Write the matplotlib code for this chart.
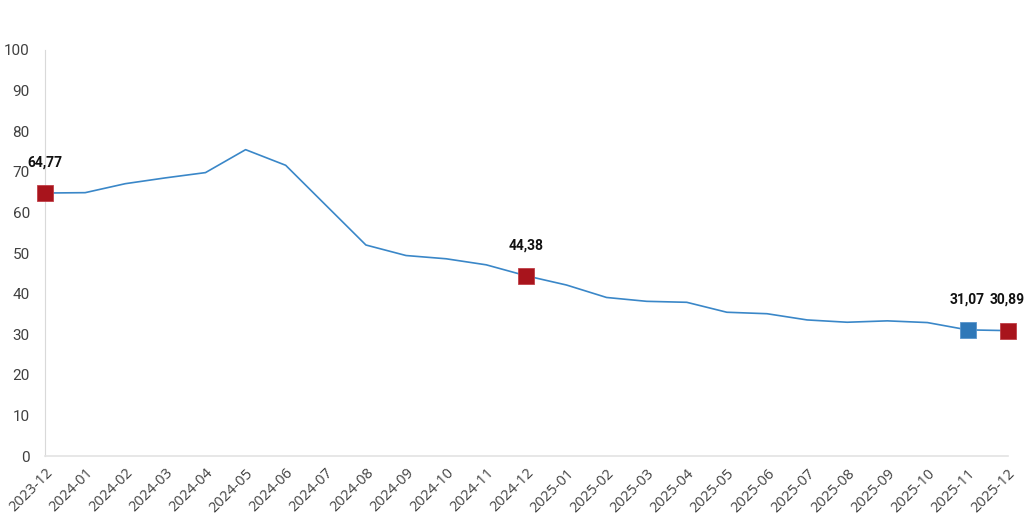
import matplotlib.pyplot as plt

months = ["2023-12", "2024-01", "2024-02", "2024-03", "2024-04", "2024-05",
          "2024-06", "2024-07", "2024-08", "2024-09", "2024-10", "2024-11",
          "2024-12", "2025-01", "2025-02", "2025-03", "2025-04", "2025-05",
          "2025-06", "2025-07", "2025-08", "2025-09", "2025-10", "2025-11",
          "2025-12"]
values = [64.77, 64.86, 67.07, 68.50, 69.80, 75.45, 71.60, 61.78, 51.97,
          49.38, 48.58, 47.09, 44.38, 42.12, 39.05, 38.10, 37.86, 35.41,
          35.05, 33.52, 32.95, 33.29, 32.87, 31.07, 30.89]

red_idx = [0, 12, 24]
blue_idx = [23]

plt.rcParams['font.family'] = ['Open Sans', 'DejaVu Sans']

fig = plt.figure(figsize=(10.24, 5.26), dpi=100)
ax = fig.add_axes([0.044, 0.133, 0.940, 0.772])

x = list(range(len(months)))
ax.plot(x, values, color='#3a87c8', linewidth=1.2, zorder=2)

for i in red_idx:
    ax.plot(i, values[i], marker='s', markersize=12, color='#a8141c',
            markeredgecolor='#c04048', markeredgewidth=0.6, clip_on=False, zorder=3)
for i in blue_idx:
    ax.plot(i, values[i], marker='s', markersize=12, color='#2f78b8',
            markeredgecolor='#5a95cc', markeredgewidth=0.6, clip_on=False, zorder=3)

for i in red_idx + blue_idx:
    label = f"{values[i]:.2f}".replace('.', ',')
    ax.annotate(label, (i, values[i]), xytext=(0, 17), textcoords='offset points',
                ha='center', va='bottom', fontsize=10, fontweight='bold',
                family=['Liberation Sans Narrow', 'Roboto', 'DejaVu Sans'],
                color='#111111')

ax.set_xlim(0, len(months) - 1)
ax.set_ylim(0, 100)
ax.set_yticks(range(0, 101, 10))
ax.set_xticks(x)
ax.set_xticklabels(months, rotation=45, ha='right', rotation_mode='anchor')

ax.tick_params(axis='both', length=0, colors='#404040', labelsize=10.5)
ax.tick_params(axis='y', pad=11)
ax.tick_params(axis='x', pad=7)
for lbl in ax.get_yticklabels():
    lbl.set_family(['Roboto', 'DejaVu Sans'])
    lbl.set_fontsize(11)

for s in ['top', 'right']:
    ax.spines[s].set_visible(False)
ax.spines['left'].set_color('#d9d9d9')
ax.spines['bottom'].set_color('#e3e3e3')
ax.spines['bottom'].set_linewidth(1.2)

fig.savefig('out.png', dpi=100)
